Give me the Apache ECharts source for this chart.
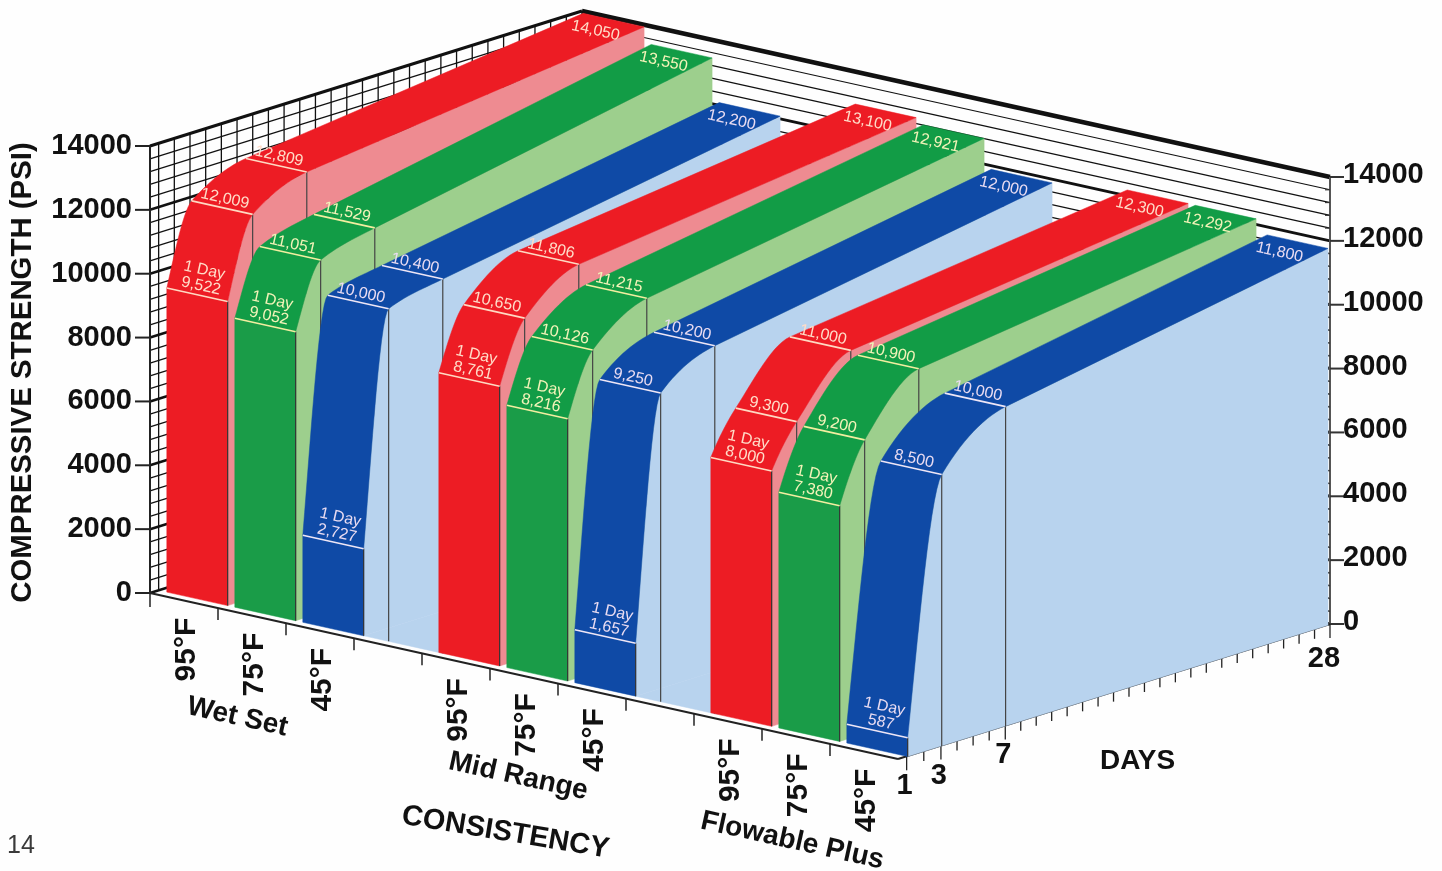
<!DOCTYPE html>
<html>
<head>
<meta charset="utf-8">
<script src="https://cdn.jsdelivr.net/npm/echarts@6/dist/echarts.min.js"></script>
<style>html,body{margin:0;padding:0;background:#fefefe}#c{width:1442px;height:871px}</style>
</head>
<body>
<div id="c"></div>
<script>
// ---- values ----
const days = [1, 3, 7, 28];
const temperatures = ['95°F', '75°F', '45°F'];
const groups = ['Wet Set', 'Mid Range', 'Flowable Plus'];
const wetSet95 = [9522, 12009, 12809, 14050];
const wetSet75 = [9052, 11051, 11529, 13550];
const wetSet45 = [2727, 10000, 10400, 12200];
const midRange95 = [8761, 10650, 11806, 13100];
const midRange75 = [8216, 10126, 11215, 12921];
const midRange45 = [1657, 9250, 10200, 12000];
const flowable95 = [8000, 9300, 11000, 12300];
const flowable75 = [7380, 9200, 10900, 12292];
const flowable45 = [587, 8500, 10000, 11800];
const psiTicks = [0, 2000, 4000, 6000, 8000, 10000, 12000, 14000];
const dayTicks = [1, 3, 7, 28];

// ---- chart building ----
const series3 = [wetSet95, wetSet75, wetSet45, midRange95, midRange75, midRange45, flowable95, flowable75, flowable45];
const slotOf = [0, 1, 2, 4, 5, 6, 8, 9, 10];
const SLOTS = 11;
const palette = [
  {top: '#ed1c24', front: '#ed1c24', side: '#ee8b91', text: '#ffdcc8', line: '#ffd9c2'},
  {top: '#129c46', front: '#1a9c48', side: '#9dcf8d', text: '#f2f3b8', line: '#f2eea0'},
  {top: '#0f4aa6', front: '#0f4aa6', side: '#b8d3ee', text: '#e9dcf2', line: '#eee6f6'}
];
const DEPTH_X = 432, DEPTH_Y = -135, FRONT_DY = 166, V0 = 0.02;
const SLOT_PX = 68, BAR_OFFSET = 0.12, BAR_WIDTH = 0.895;
const TILT = -Math.atan2(FRONT_DY, 748);
const FONT = '"Liberation Sans", Arial, sans-serif';
const depthMid = [0, 0.06, 0.19, 1];
const depthNear = [0, 0.081, 0.233, 1];

function depthOf(day, table) {
  for (let i = 0; i < days.length - 1; i++) {
    if (day <= days[i + 1]) {
      return table[i] + (table[i + 1] - table[i]) * (day - days[i]) / (days[i + 1] - days[i]);
    }
  }
  return 1;
}
const vOf = (t, end) => V0 + ((end || 1) - V0) * t;

function makeProject(api) {
  return function (slot, v, psi) {
    const p = api.coord([slot, psi]);
    return [p[0] + v * DEPTH_X, p[1] + slot / SLOTS * FRONT_DY + v * DEPTH_Y];
  };
}
// rendering path of one ribbon: monotone cubic through the four readings
function profile(vals, table) {
  const t = table, s = [];
  for (let i = 0; i < 3; i++) s.push((vals[i + 1] - vals[i]) / (t[i + 1] - t[i]));
  const m = [s[0] * 1.3, 2 * s[0] * s[1] / (s[0] + s[1]), s[2] * 1.1, s[2]];
  const out = [];
  for (let i = 0; i < 3; i++) {
    const h = t[i + 1] - t[i], n = i === 2 ? 1 : 14;
    for (let k = 0; k < n; k++) {
      const a = k / n, a2 = a * a, a3 = a2 * a;
      out.push([t[i] + h * a,
        (2 * a3 - 3 * a2 + 1) * vals[i] + (a3 - 2 * a2 + a) * h * m[i] +
        (-2 * a3 + 3 * a2) * vals[i + 1] + (a3 - a2) * h * m[i + 1]]);
    }
  }
  out.push([1, vals[3]]);
  return out;
}
const line = (a, b, stroke, w) => ({type: 'line', shape: {x1: a[0], y1: a[1], x2: b[0], y2: b[1]}, style: {stroke, lineWidth: w}, silent: true});
const poly = (pts, fill) => ({type: 'polygon', shape: {points: pts}, style: {fill, stroke: fill, lineWidth: 0.5}, silent: true});
const txt = (p, text, font, fill, rot, opts) => Object.assign({
  type: 'text', x: p[0], y: p[1], rotation: rot || 0, silent: true,
  style: Object.assign({text, font, fill, align: 'center', verticalAlign: 'middle'}, opts || {})
});

function renderFrame(params, api) {
  const P = makeProject(api), c = [];
  const dv = d => V0 + (1 - V0) * (d - 1) / 27;
  for (let psi = 0; psi <= 14000; psi += 400) {
    const major = psi % 2000 === 0;
    const w = psi === 14000 ? 3 : (major ? 2.6 : 1.3);
    c.push(line(P(0, 0, psi), P(0, 1, psi), '#111', w));
    c.push(line(P(0, 1, psi), P(SLOTS, 1, psi), '#111', psi === 14000 ? 4.5 : (major ? 3 : 1.2)));
  }
  for (let d = 1; d <= 28; d++) c.push(line(P(0, dv(d), 0), P(0, dv(d), 14000), '#111', 1.3));
  c.push(line(P(0, 0, 0), [P(0, 0, 0)[0], P(0, 0, 0)[1] + 14], '#222', 1.5));
  c.push(line(P(0, 0, 0), P(0, 0, 14000), '#222', 2));
  c.push(line(P(SLOTS, 1, 0), P(SLOTS, 1, 14000), '#555', 2));
  psiTicks.forEach(v => {
    const l = P(0, 0, v), r = P(SLOTS, 1, v);
    c.push(line([l[0] - 15, l[1]], l, '#222', 2));
    c.push(line(r, [r[0] + 14, r[1]], '#333', 2));
    c.push(txt([l[0] - 18, l[1]], String(v), 'bold 29px ' + FONT, '#111', 0, {align: 'right'}));
    c.push(txt([r[0] + 13, r[1] - 2], String(v), 'bold 29px ' + FONT, '#111', 0, {align: 'left'}));
  });
  for (let v = 400; v < 14000; v += 400) {
    if (v % 2000) { const r = P(SLOTS, 1, v); c.push(line([r[0] - 5, r[1]], r, '#333', 1.2)); }
  }
  return {type: 'group', children: c};
}

function renderFloor(params, api) {
  const P = makeProject(api), c = [];
  c.push(line(P(0, 0, 0), P(SLOTS, 0, 0), '#222', 2));
  for (let k = 1; k <= 10; k++) {
    const a = P(k, 0, 0);
    c.push(line(a, [a[0], a[1] + 12], '#222', 1.5));
  }
  const start = P(SLOTS, vOf(0), 0), end = P(SLOTS, 1, 0);
  c.push(line(P(SLOTS, 0, 0), start, '#222', 2));
  c.push(line(start, end, '#222', 2));
  for (let d = 1; d <= 28; d++) {
    const a = P(SLOTS, vOf(depthOf(d, depthNear)), 0);
    c.push(line(a, [a[0], a[1] + (dayTicks.indexOf(d) >= 0 ? 14 : 10)], '#222', 1.3));
  }
  dayTicks.forEach(d => {
    const a = P(SLOTS, vOf(depthOf(d, depthNear)), 0);
    c.push(txt([a[0] + (d === 28 ? -6 : -2), a[1] + (d === 28 ? 35 : 30)], String(d), 'bold 29px ' + FONT, '#111'));
  });
  slotOf.forEach((s, i) => {
    const a = P(s + 0.5, 0, 0);
    c.push(txt([a[0] + 3, a[1] + 49], temperatures[i % 3], 'bold 30px ' + FONT, '#111', Math.PI / 2));
  });
  groups.forEach((g, i) => {
    const a = P(i * 4 + 1.27, 0, 0);
    const dx = [1, 10, 12][i], dy = [105, 104, 108][i];
    c.push(txt([a[0] + dx, a[1] + dy], g, 'bold 28px ' + FONT, '#111', TILT));
  });
  const cc = P(5.08, 0, 0);
  c.push(txt([cc[0] + 10, cc[1] + 163], 'CONSISTENCY', 'bold 29px ' + FONT, '#111', TILT * 0.75));
  const dd = P(SLOTS, 0.55, 0);
  c.push(txt([dd[0] + 2, dd[1] + 77], 'DAYS', 'bold 28px ' + FONT, '#111'));
  const y0 = P(0, 0, 7000);
  c.push(txt([y0[0] - 127, y0[1] + 3], 'COMPRESSIVE STRENGTH (PSI)', 'bold 29.4px ' + FONT, '#111', Math.PI / 2));
  return {type: 'group', children: c};
}

function renderRibbon(params, api) {
  const i = params.dataIndex, vals = series3[i], col = palette[i % 3], P = makeProject(api);
  const isLast = i === series3.length - 1;
  const table = isLast ? depthNear : depthMid;
  const END = isLast ? 0.993 : 0.984;
  const vr = t => vOf(t, END);
  const u1 = slotOf[i] + BAR_OFFSET, u2 = u1 + BAR_WIDTH, um = (u1 + u2) / 2;
  const prof = profile(vals, table);
  const c = [];
  const L = prof.map(q => P(u1, vr(q[0]), q[1]));
  const R = prof.map(q => P(u2, vr(q[0]), q[1]));
  const endsGroup = i % 3 === 2 && !isLast;
  // where a vertical at depth v reaches the front line of the bars
  const footOf = v => endsGroup ? P(u2 + (v - vr(0)) * DEPTH_X / SLOT_PX, vr(0), 0) : P(u2, v, 0);
  // side
  c.push(poly(R.concat([P(u2, END, 0), P(u2, vr(0), 0)]), col.side));
  if (endsGroup) {
    // the side colour runs down over the floor in the gap before the next group
    c.push(poly([P(u2, vr(0), 0), P(u2 + 1.2, vr(0), 0), P(u2 + 1.2, 0.4, 0), P(u2, 0.4, 0)], col.side));
  }
  [1, 2].forEach(k => {
    const v = vr(table[k]);
    c.push(line(footOf(v), P(u2, v, vals[k]), '#444', 1.2));
  });
  c.push(poly(L.concat(R.slice().reverse()), col.top));
  c.push(poly([P(u1, vr(0), 0), P(u2, vr(0), 0), P(u2, vr(0), vals[0]), P(u1, vr(0), vals[0])], col.front));
  c.push(line(P(u2, vr(0), 0), P(u2, vr(0), vals[0]), '#333', 1.2));
  [0, 1, 2].forEach(k => {
    const v = vr(table[k]);
    const a = P(u1, v, vals[k]), b = P(u2, v, vals[k]), m = P(um, v, vals[k]);
    c.push(line(a, b, col.line, 1.6));
    const s = vals[k].toLocaleString('en-US');
    if (k === 0) {
      c.push(txt([m[0] + 2, m[1] - 1], '1 Day\n' + s, '16px ' + FONT, col.text, TILT, {verticalAlign: 'bottom', lineHeight: 16}));
    } else {
      c.push(txt([m[0] + 1, m[1] - 1], s, '16px ' + FONT, col.text, TILT, {verticalAlign: 'bottom'}));
    }
  });
  const e = P(um, END - 0.042, vals[3]);
  c.push(txt([e[0], e[1] + 5], vals[3].toLocaleString('en-US'), '16px ' + FONT, col.text, TILT));
  return {type: 'group', children: c};
}

const chart = echarts.init(document.getElementById('c'), null, {renderer: 'canvas'});
chart.setOption({
  animation: false,
  backgroundColor: '#fefefe',
  grid: {left: 150, top: 146, width: 748, height: 447, containLabel: false},
  xAxis: {type: 'value', min: 0, max: SLOTS, show: false},
  yAxis: {type: 'value', min: 0, max: 14000, show: false},
  tooltip: {show: false},
  graphic: [{type: 'text', left: 7, top: 834, silent: true,
    style: {text: '14', font: '25px ' + FONT, fill: '#3a3a3a'}}],
  series: [
    {type: 'custom', coordinateSystem: 'cartesian2d', clip: false, silent: true, z: 1, data: [[0, 0]], renderItem: renderFrame},
    {type: 'custom', coordinateSystem: 'cartesian2d', clip: false, silent: true, z: 2, data: [[0, 0]], renderItem: renderFloor},
    {type: 'custom', coordinateSystem: 'cartesian2d', clip: false, silent: true, z: 3,
      data: series3.map((v, i) => [slotOf[i], v[3]]), renderItem: renderRibbon}
  ]
});
</script>
</body>
</html>
